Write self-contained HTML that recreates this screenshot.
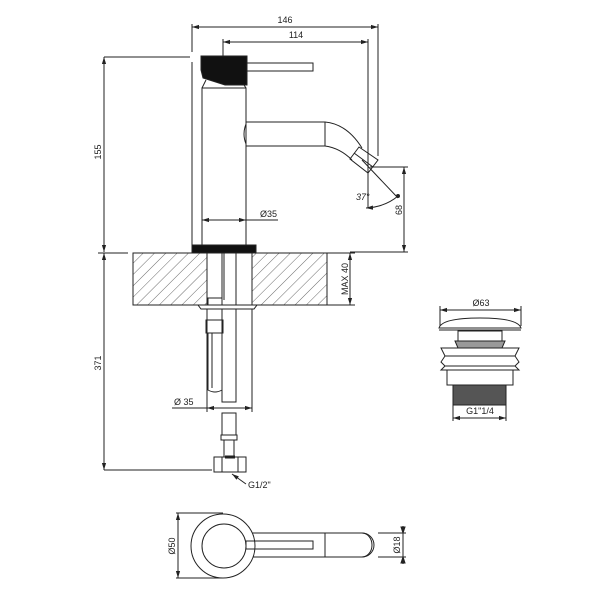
<!DOCTYPE html>
<html><head><style>html,body{margin:0;padding:0;background:#fff}svg{display:block}</style></head>
<body>
<svg width="600" height="600" viewBox="0 0 600 600" xmlns="http://www.w3.org/2000/svg" font-family="Liberation Sans, sans-serif" font-size="9" fill="none" stroke="#222" stroke-width="1">
<defs>
<marker id="a" viewBox="0 0 10 10" refX="10" refY="5" markerWidth="7" markerHeight="7" orient="auto-start-reverse"><path d="M0,2 L10,5 L0,8z" fill="#222" stroke="none"/></marker>
<pattern id="h" width="8" height="8" patternUnits="userSpaceOnUse" patternTransform="rotate(45)"><line x1="0" y1="0" x2="0" y2="8" stroke="#444" stroke-width="0.8"/></pattern>
</defs>
<!-- top dims -->
<line x1="192" y1="27" x2="378" y2="27" marker-start="url(#a)" marker-end="url(#a)"/>
<text x="285" y="23" fill="#222" stroke="none" text-anchor="middle">146</text>
<line x1="223" y1="42" x2="368" y2="42" marker-start="url(#a)" marker-end="url(#a)"/>
<text x="296" y="38" fill="#222" stroke="none" text-anchor="middle">114</text>
<line x1="192" y1="24" x2="192" y2="52"/>
<line x1="192" y1="62" x2="192" y2="245"/>
<line x1="223" y1="39" x2="223" y2="56"/>
<line x1="368" y1="39" x2="368" y2="208"/>
<line x1="378" y1="24" x2="378" y2="156"/>
<!-- 155 -->
<line x1="104" y1="57" x2="190" y2="57"/>
<line x1="104" y1="57" x2="104" y2="252" marker-start="url(#a)" marker-end="url(#a)"/>
<text transform="translate(101,152) rotate(-90)" fill="#222" stroke="none" text-anchor="middle">155</text>
<!-- handle -->
<path d="M201,56 L247,56 L247,85 L225,85 L203,78 L201,70z" fill="#111"/>
<path d="M206,80 L202,88 M244,85 L246,88"/>
<rect x="247" y="63" width="66" height="8"/>
<!-- body -->
<rect x="202" y="88" width="44" height="158"/>
<!-- spout -->
<path d="M246,122 L325,122 Q347,124 362,148"/>
<path d="M246,146 L325,146 Q340,148 352,160"/>
<path d="M246,124 Q242,134 246,144"/>
<line x1="325" y1="122" x2="325" y2="146"/>
<path d="M359,147 L378,160 L368,173 L350,159z"/>
<line x1="354" y1="153" x2="373" y2="167"/>
<line x1="362" y1="160" x2="398" y2="198"/>
<path d="M366,208 Q385,207 398,196" marker-start="url(#a)"/>
<circle cx="398" cy="196" r="1.5" fill="#222"/>
<text x="356" y="200" fill="#222" stroke="none" font-style="italic">37°</text>
<!-- 68 -->
<line x1="370" y1="167" x2="408" y2="167"/>
<line x1="404" y1="167" x2="404" y2="252" marker-start="url(#a)" marker-end="url(#a)"/>
<text transform="translate(402,210) rotate(-90)" fill="#222" stroke="none" text-anchor="middle">68</text>
<line x1="350" y1="252" x2="408" y2="252"/>
<!-- Ø35 top -->
<line x1="202" y1="220" x2="246" y2="220" marker-start="url(#a)" marker-end="url(#a)"/>
<line x1="246" y1="220" x2="278" y2="220"/>
<text x="260" y="217" fill="#222" stroke="none">Ø35</text>
<!-- base plate -->
<rect x="192" y="245" width="64" height="8" fill="#111"/>
<!-- counter -->
<rect x="133" y="253" width="74" height="52" fill="url(#h)"/>
<rect x="252" y="253" width="75" height="52" fill="url(#h)"/>
<line x1="133" y1="253" x2="327" y2="253"/>
<line x1="133" y1="305" x2="327" y2="305"/>
<line x1="133" y1="253" x2="133" y2="305"/>
<line x1="327" y1="253" x2="327" y2="305"/>
<line x1="327" y1="253" x2="355" y2="253"/>
<line x1="327" y1="305" x2="355" y2="305"/>
<line x1="350" y1="253" x2="350" y2="305" marker-start="url(#a)" marker-end="url(#a)"/>
<text transform="translate(348,279) rotate(-90)" fill="#222" stroke="none" text-anchor="middle">MAX 40</text>
<!-- tube -->
<line x1="207" y1="253" x2="207" y2="412"/>
<line x1="252" y1="253" x2="252" y2="412"/>
<path d="M222,253 L222,402 L236,402 L236,253"/>
<line x1="224" y1="253" x2="224" y2="300"/>
<path d="M198,305 L257,305 L254,309 L201,309z" fill="#fff"/>
<rect x="208" y="298" width="14" height="7" fill="#fff"/>
<rect x="206" y="320" width="17" height="13"/>
<path d="M208,333 L208,390 Q215,394 222,390 L222,333"/>
<line x1="212" y1="333" x2="212" y2="388"/>
<!-- Ø35 bottom -->
<line x1="207" y1="408" x2="252" y2="408" marker-start="url(#a)" marker-end="url(#a)"/>
<line x1="172" y1="408" x2="207" y2="408"/>
<text x="174" y="405" fill="#222" stroke="none">Ø 35</text>
<!-- fitting -->
<rect x="222" y="413" width="14" height="22"/>
<rect x="221" y="435" width="16" height="5"/>
<rect x="224" y="440" width="10" height="17"/>
<rect x="214" y="457" width="32" height="15"/>
<line x1="222" y1="457" x2="222" y2="472"/><line x1="238" y1="457" x2="238" y2="472"/>
<line x1="225" y1="457" x2="235" y2="457" stroke-width="3"/>
<line x1="246" y1="484" x2="232" y2="474" marker-end="url(#a)"/>
<text x="248" y="488" fill="#222" stroke="none">G1/2"</text>
<!-- 371 -->
<line x1="104" y1="253" x2="104" y2="470" marker-start="url(#a)" marker-end="url(#a)"/>
<line x1="104" y1="470" x2="212" y2="470"/>
<line x1="98" y1="253" x2="128" y2="253"/>
<text transform="translate(101,363) rotate(-90)" fill="#222" stroke="none" text-anchor="middle">371</text>
<!-- plan view -->
<path d="M250,533 L362,533 A12,12 0 0 1 362,557 L250,557"/>
<circle cx="223" cy="546" r="32" fill="#fff"/>
<circle cx="224" cy="546" r="22"/>
<rect x="246" y="541" width="67" height="8"/>
<line x1="325" y1="533" x2="325" y2="557"/>
<path d="M362,533 A10,12 0 0 1 362,557"/>
<line x1="178" y1="513" x2="178" y2="578" marker-start="url(#a)" marker-end="url(#a)"/>
<line x1="176" y1="513" x2="223" y2="513"/><line x1="176" y1="578" x2="223" y2="578"/>
<text transform="translate(175,546) rotate(-90)" fill="#222" stroke="none" text-anchor="middle">Ø50</text>
<line x1="378" y1="533" x2="406" y2="533"/><line x1="378" y1="557" x2="406" y2="557"/>
<line x1="403" y1="526" x2="403" y2="564"/>
<path d="M403,533 l-2,-6 h4z M403,557 l-2,6 h4z" fill="#222"/>
<text transform="translate(400,545) rotate(-90)" fill="#222" stroke="none" text-anchor="middle">Ø18</text>
<!-- waste -->
<line x1="440" y1="310" x2="521" y2="310" marker-start="url(#a)" marker-end="url(#a)"/>
<line x1="440" y1="306" x2="440" y2="326"/><line x1="521" y1="306" x2="521" y2="326"/>
<text x="481" y="306" fill="#222" stroke="none" text-anchor="middle">Ø63</text>
<path d="M439,328 Q442,318 480,318 Q518,318 521,328z"/>
<line x1="439" y1="330" x2="521" y2="330"/>
<rect x="458" y="331" width="44" height="10"/>
<path d="M455,341 L505,341 L502,348 L458,348z" fill="#999"/>
<path d="M441,348 L519,348 L515,356 L519,362 L515,366 L519,370 L441,370 L445,366 L441,362 L445,356z"/>
<line x1="445" y1="356" x2="515" y2="356"/><line x1="445" y1="366" x2="515" y2="366"/>
<rect x="447" y="370" width="66" height="15"/>
<rect x="453" y="385" width="53" height="20" fill="#555"/>
<line x1="453" y1="418" x2="506" y2="418" marker-start="url(#a)" marker-end="url(#a)"/>
<line x1="453" y1="405" x2="453" y2="421"/><line x1="506" y1="405" x2="506" y2="421"/>
<text x="480" y="414" fill="#222" stroke="none" text-anchor="middle">G1"1/4</text>
</svg>
</body></html>
